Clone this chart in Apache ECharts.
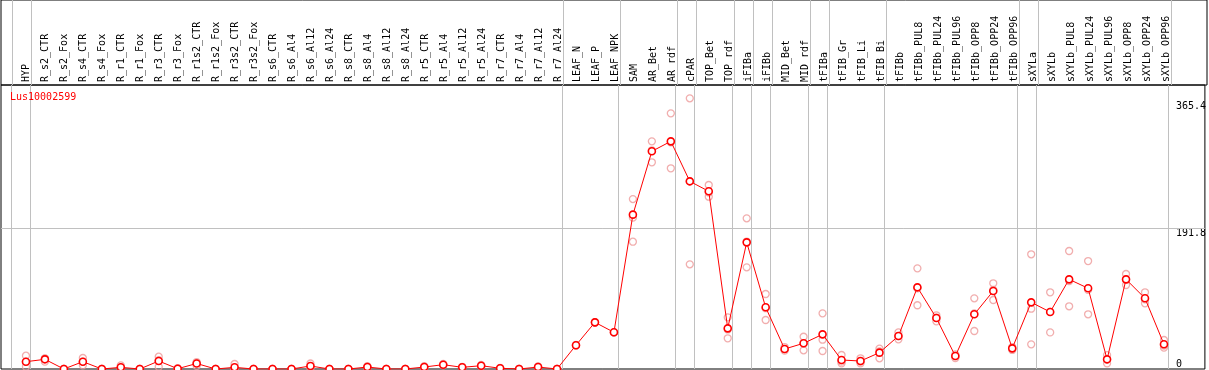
<!DOCTYPE html>
<html>
<head>
<meta charset="utf-8">
<script src="https://cdn.jsdelivr.net/npm/echarts@6/dist/echarts.min.js"></script>
<style>
  html, body { margin: 0; padding: 0; background: #fff; }
  #chart { width: 1209px; height: 370px; }
</style>
</head>
<body>
<div id="chart"></div>
<script>
const geneName = 'Lus10002599';

const categories = [
  'HYP', 'R_s2_CTR', 'R_s2_Fox', 'R_s4_CTR', 'R_s4_Fox', 'R_r1_CTR', 'R_r1_Fox', 'R_r3_CTR', 'R_r3_Fox',
  'R_r1s2_CTR', 'R_r1s2_Fox', 'R_r3s2_CTR', 'R_r3s2_Fox', 'R_s6_CTR', 'R_s6_Al4', 'R_s6_Al12', 'R_s6_Al24',
  'R_s8_CTR', 'R_s8_Al4', 'R_s8_Al12', 'R_s8_Al24', 'R_r5_CTR', 'R_r5_Al4', 'R_r5_Al12', 'R_r5_Al24',
  'R_r7_CTR', 'R_r7_Al4', 'R_r7_Al12', 'R_r7_Al24', 'LEAF_N', 'LEAF_P', 'LEAF_NPK', 'SAM', 'AR_Bet', 'AR_rdf',
  'cPAR', 'TOP_Bet', 'TOP_rdf', 'iFIBa', 'iFIBb', 'MID_Bet', 'MID_rdf', 'tFIBa', 'tFIB_Gr', 'tFIB_Li', 'tFIB_Bi',
  'tFIBb', 'tFIBb_PUL8', 'tFIBb_PUL24', 'tFIBb_PUL96', 'tFIBb_OPP8', 'tFIBb_OPP24', 'tFIBb_OPP96',
  'sXYLa', 'sXYLb', 'sXYLb_PUL8', 'sXYLb_PUL24', 'sXYLb_PUL96', 'sXYLb_OPP8', 'sXYLb_OPP24', 'sXYLb_OPP96'
];

// mean expression per sample
const meanValues = [
  10, 13.2, 0, 10, 0, 2.3, 0, 10.9, 0.4, 7.5, 0, 2.3, 0, 0, 0, 4.1, 0, 0, 2.7, 0, 0, 2.7, 5.9, 2.3, 4.5, 1, 0, 2.7, 0,
  32.5, 63.7, 50.1, 210.7, 297.2, 310.8, 256.2, 242.6, 55.5, 172.9, 84.2, 27.3, 35.1, 47.3, 12.3, 10.9, 22.3,
  45, 111.5, 69.6, 17.7, 74.7, 106.5, 28.2, 91, 77.8, 122.4, 110.2, 13.2, 122.4, 96.5, 33.7
];

// individual replicates
const rep1 = [
  18.2, 14.6, 0, 15, 0, 5, 0, 16.8, 1, 9.5, 0, 6.8, 0, 0, 0, 7.5, 0, 0, 4, 0, 0, 4, 7, 3, 5.5, 1.5, 0, 3.5, 0,
  33, 64, 50, 232, 310.8, 349, 369.5, 251.2, 70.5, 205.7, 102.4, 30, 44, 76, 19.1, 14.6, 27.8,
  50, 137.4, 73.3, 20, 96.5, 117, 30, 156.6, 104.7, 161.1, 147.4, 19, 129.7, 104.7, 39.6
];
const rep2 = [
  3.1, 10, 0, 5, 0, 0, 0, 3.1, 0, 4, 0, 0, 0, 0, 0, 1, 0, 0, 1.5, 0, 0, 1.5, 5, 1.5, 3.5, 0.5, 0, 2, 0,
  32, 63, 50, 173.8, 282.2, 274, 142.9, 235.2, 41.9, 138.8, 66.9, 25, 25.5, 24.6, 7.7, 7.7, 14.6,
  40.5, 87, 65.1, 15, 51.9, 94.2, 26, 33.7, 50, 85.6, 74.7, 7.7, 114.7, 89.7, 29.1
];
const rep3 = [
  10, 14, 0, 10, 0, 2, 0, 12, 0, 8, 0, 0, 0, 0, 0, 4, 0, 0, 2.7, 0, 0, 2.7, 5.9, 2.3, 4.5, 1, 0, 2.7, 0,
  32.5, 64, 50, 206.6, 298.6, 309.4, 256.2, 241, 54, 174, 83, 27, 35, 40, 10, 10, 24,
  45, 110, 70, 18, 76, 108, 28, 82.3, 78, 120, 108, 13, 122, 95, 32
];

// last sample index of each group (separator drawn just after it)
const groupEnds = [-1, 0, 28, 31, 34, 35, 37, 38, 39, 41, 42, 45, 52, 53, 60];

// right-hand axis labels
const yLabelsTop = [191.8, 365.4];
const yLabelsBottom = [0];

const chart = echarts.init(document.getElementById('chart'));
const mono = 'DejaVu Sans Mono';
const gray = '#c0c0c0';

const xMin = -25 / 19;
const xMax = xMin + 1206 / 19;
const yMax = 284 / 0.7325;

const toPoints = arr => arr.map((v, i) => [i, v]);
const vLines = groupEnds.map(i => ({ xAxis: i + 0.25 }));

const repStyle = {
  color: 'rgba(0,0,0,0)',
  borderColor: '#ee9a9a',
  borderWidth: 1.3
};

const option = {
  animation: false,
  title: {
    text: geneName,
    left: 10,
    top: 92,
    padding: 0,
    textStyle: { fontFamily: mono, fontSize: 10, fontWeight: 'normal', color: '#ff0000' }
  },
  grid: [
    { left: 1, right: 2, top: 85, bottom: 1, show: true, borderColor: '#000', borderWidth: 1 },
    { left: 1, right: 2, top: 0, height: 85, show: true, borderColor: '#000', borderWidth: 1 }
  ],
  xAxis: [
    {
      type: 'value', gridIndex: 0, min: xMin, max: xMax,
      axisLine: { show: false }, axisTick: { show: false }, axisLabel: { show: false }, splitLine: { show: false }
    },
    {
      type: 'value', gridIndex: 1, min: xMin, max: xMax, position: 'bottom',
      axisLine: { show: false }, axisTick: { show: false }, splitLine: { show: false },
      axisLabel: {
        inside: true,
        rotate: 90,
        margin: 3,
        customValues: categories.map((c, i) => i),
        formatter: v => categories[Math.round(v)],
        fontFamily: mono,
        fontSize: 10,
        color: '#000'
      }
    }
  ],
  yAxis: [
    {
      type: 'value', gridIndex: 0, min: 0, max: yMax, position: 'right',
      axisLine: { show: false }, axisTick: { show: false }, splitLine: { show: false },
      axisLabel: {
        inside: true, align: 'left', verticalAlign: 'top', margin: 29,
        customValues: yLabelsTop, formatter: v => String(v),
        fontFamily: mono, fontSize: 10, color: '#000'
      }
    },
    {
      type: 'value', gridIndex: 0, min: 0, max: yMax, position: 'right',
      axisLine: { show: false }, axisTick: { show: false }, splitLine: { show: false },
      axisLabel: {
        inside: true, align: 'left', verticalAlign: 'bottom', margin: 29,
        customValues: yLabelsBottom, formatter: v => String(v),
        fontFamily: mono, fontSize: 10, color: '#000'
      }
    },
    {
      type: 'value', gridIndex: 1, min: 0, max: 1, show: false
    }
  ],
  series: [
    {
      name: 'rep1', type: 'scatter', xAxisIndex: 0, yAxisIndex: 0,
      data: toPoints(rep1), symbol: 'circle', symbolSize: 7, itemStyle: repStyle, z: 2
    },
    {
      name: 'rep2', type: 'scatter', xAxisIndex: 0, yAxisIndex: 0,
      data: toPoints(rep2), symbol: 'circle', symbolSize: 7, itemStyle: repStyle, z: 2
    },
    {
      name: 'rep3', type: 'scatter', xAxisIndex: 0, yAxisIndex: 0,
      data: toPoints(rep3), symbol: 'circle', symbolSize: 7, itemStyle: repStyle, z: 2
    },
    {
      name: 'mean', type: 'line', xAxisIndex: 0, yAxisIndex: 0,
      data: toPoints(meanValues),
      symbol: 'circle', symbolSize: 7,
      lineStyle: { color: '#ff0000', width: 1 },
      itemStyle: { color: '#fff', borderColor: '#ff0000', borderWidth: 1.6 },
      z: 5,
      markLine: {
        silent: true, symbol: 'none', label: { show: false }, z: 1,
        lineStyle: { color: gray, width: 1, type: 'solid' },
        data: vLines.concat([{ yAxis: 191.8 }])
      }
    },
    {
      name: 'header', type: 'line', xAxisIndex: 1, yAxisIndex: 2,
      data: [], symbol: 'none',
      markLine: {
        silent: true, symbol: 'none', label: { show: false },
        lineStyle: { color: gray, width: 1, type: 'solid' },
        data: vLines
      }
    }
  ]
};

chart.setOption(option);
</script>
</body>
</html>
